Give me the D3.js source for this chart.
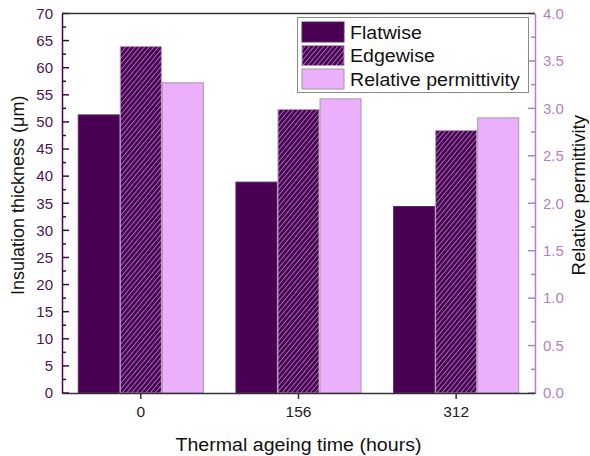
<!DOCTYPE html>
<html>
<head>
<meta charset="utf-8">
<script src="https://cdn.jsdelivr.net/npm/d3@7"></script>
<style>
  html, body { margin: 0; padding: 0; background: #fff; }
  svg { display: block; font-family: "Liberation Sans", Arial, sans-serif; }
</style>
</head>
<body>
<svg id="chart" width="590" height="456"></svg>
<script>
// Ageing times (hours)
const categories = ["0", "156", "312"];
// Insulation thickness (µm)
const flatwise = [51.3, 38.9, 34.4];
const edgewise = [63.9, 52.3, 48.4];
// Relative permittivity (right axis)
const permittivity = [3.27, 3.10, 2.90];

const leftTicks = d3.range(0, 71, 5);
const rightTicks = d3.range(0, 4.01, 0.5);
const seriesNames = ["Flatwise", "Edgewise", "Relative permittivity"];

const m = { left: 62, right: 535, top: 13.5, bottom: 393 };

const cDark = "#4a0052";
const cHatchLine = "#a27ab2";
const cLight = "#ecaffb";
const cRight = "#b27fc8";
const cLeftText = "#4b1458";
const textStretch = 1.12; // horizontal text widening

const svg = d3.select("#chart");
const defs = svg.append("defs");
const pat = defs.append("pattern")
  .attr("id", "hatch")
  .attr("patternUnits", "userSpaceOnUse")
  .attr("width", 3.6).attr("height", 3.6)
  .attr("patternTransform", "rotate(40)");
pat.append("rect").attr("width", 3.6).attr("height", 3.6).attr("fill", cDark);
pat.append("line").attr("x1", 0.5).attr("y1", 0).attr("x2", 0.5).attr("y2", 3.6)
  .attr("stroke", cHatchLine).attr("stroke-width", 0.9);

const x = d3.scaleBand().domain(categories).range([m.left, m.right]).padding(0);
const xs = d3.scaleBand().domain([0, 1, 2])
  .range([x.bandwidth() * 0.1, x.bandwidth() * 0.9]).padding(0);
const yL = d3.scaleLinear().domain([0, 70]).range([m.bottom, m.top]);
const yR = d3.scaleLinear().domain([0, 4]).range([m.bottom, m.top]);

const fills = [cDark, "url(#hatch)", cLight];
const strokes = ["#5a2a66", "#b894c4", "#a898a8"];

// Bars
const g = svg.append("g");
categories.forEach((c, i) => {
  const x0 = x(c);
  const items = [
    { k: 0, y: yL(flatwise[i]), y0: yL(0) },
    { k: 1, y: yL(edgewise[i]), y0: yL(0) },
    { k: 2, y: yR(permittivity[i]), y0: yR(0) }
  ];
  items.forEach(it => {
    g.append("rect")
      .attr("x", x0 + xs(it.k) + 0.5)
      .attr("y", it.y)
      .attr("width", xs.bandwidth() - 1)
      .attr("height", it.y0 - it.y)
      .attr("fill", fills[it.k])
      .attr("stroke", strokes[it.k])
      .attr("stroke-width", 1);
  });
});

// Left axis
const leftAxis = d3.axisLeft(yL).tickValues(leftTicks).tickSize(0).tickPadding(9)
  .tickFormat(d3.format("d"));
const gl = svg.append("g").attr("transform", `translate(${m.left},0)`).call(leftAxis);
gl.select(".domain").attr("stroke", cDark).attr("stroke-width", 1.5);
gl.selectAll("text").attr("fill", cLeftText).attr("font-size", 15)
  .attr("font-family", "Liberation Sans, Arial, sans-serif");
const minorL = d3.range(2.5, 70, 5);
svg.append("g").selectAll("line").data(leftTicks).join("line")
  .attr("x1", m.left).attr("x2", m.left + 7)
  .attr("y1", d => yL(d)).attr("y2", d => yL(d))
  .attr("stroke", cDark).attr("stroke-width", 1.5);
svg.append("g").selectAll("line").data(minorL).join("line")
  .attr("x1", m.left).attr("x2", m.left + 4)
  .attr("y1", d => yL(d)).attr("y2", d => yL(d))
  .attr("stroke", cDark).attr("stroke-width", 1.5);

// Right axis
const rightAxis = d3.axisRight(yR).tickValues(rightTicks).tickSize(0).tickPadding(8)
  .tickFormat(d3.format(".1f"));
const gr = svg.append("g").attr("transform", `translate(${m.right},0)`).call(rightAxis);
gr.select(".domain").attr("stroke", cRight).attr("stroke-width", 1.5);
gr.selectAll("text").attr("fill", cRight).attr("font-size", 15)
  .attr("font-family", "Liberation Sans, Arial, sans-serif");
const minorR = d3.range(0.25, 4, 0.5);
svg.append("g").selectAll("line").data(rightTicks).join("line")
  .attr("x1", m.right).attr("x2", m.right - 7)
  .attr("y1", d => yR(d)).attr("y2", d => yR(d))
  .attr("stroke", cRight).attr("stroke-width", 1.5);
svg.append("g").selectAll("line").data(minorR).join("line")
  .attr("x1", m.right).attr("x2", m.right - 4)
  .attr("y1", d => yR(d)).attr("y2", d => yR(d))
  .attr("stroke", cRight).attr("stroke-width", 1.5);

// Bottom axis
const bottomAxis = d3.axisBottom(x).tickSize(6).tickPadding(7).tickSizeOuter(0);
const gb = svg.append("g").attr("transform", `translate(0,${m.bottom})`).call(bottomAxis);
gb.select(".domain").attr("stroke", "#333").attr("stroke-width", 1.5);
gb.selectAll(".tick line").attr("stroke", "#333").attr("stroke-width", 1.5);
gb.selectAll("text").attr("fill", "#222").attr("font-size", 15.5)
  .attr("font-family", "Liberation Sans, Arial, sans-serif");

// Top frame line
svg.append("line")
  .attr("x1", m.left).attr("x2", m.right)
  .attr("y1", m.top).attr("y2", m.top)
  .attr("stroke", "#333").attr("stroke-width", 1.5);

// Axis titles
svg.append("text")
  .attr("transform", `translate(24,${(m.top + m.bottom) / 2 - 8}) rotate(-90)`)
  .attr("text-anchor", "middle").attr("font-size", 18).attr("fill", "#111")
  .text("Insulation thickness (\u03bcm)");
svg.append("text")
  .attr("transform", `translate(585,${(m.top + m.bottom) / 2 - 8}) rotate(-90)`)
  .attr("text-anchor", "middle").attr("font-size", 18.5).attr("fill", "#111")
  .text("Relative permittivity");
svg.append("text")
  .attr("transform", `translate(${(m.left + m.right) / 2},451) scale(${textStretch},1)`)
  .attr("text-anchor", "middle").attr("font-size", 17.5).attr("fill", "#111")
  .text("Thermal ageing time (hours)");

// Legend
const lg = svg.append("g");
lg.append("rect").attr("x", 297.5).attr("y", 17.5).attr("width", 231).attr("height", 75)
  .attr("fill", "#fff").attr("stroke", "#8a8a8a").attr("stroke-width", 1);
const swY = [22, 45.5, 69];
seriesNames.forEach((name, k) => {
  lg.append("rect").attr("x", 302).attr("y", swY[k]).attr("width", 42).attr("height", 20)
    .attr("fill", fills[k]).attr("stroke", strokes[k]).attr("stroke-width", 1);
  lg.append("text")
    .attr("transform", `translate(350,${swY[k] + 16.5}) scale(${textStretch},1)`)
    .attr("font-size", 17.5).attr("fill", "#111").text(name);
});
</script>
</body>
</html>
